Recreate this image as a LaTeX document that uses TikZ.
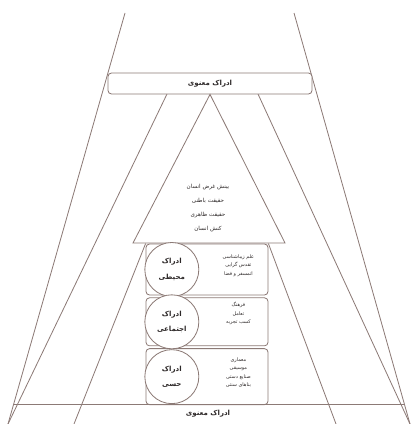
\documentclass[tikz,border=0pt]{standalone}
\usepackage{fontspec}
\usetikzlibrary{positioning,calc}
\TeXXeTstate=1
\newfontfamily\farsi[Script=Arabic]{DejaVu Sans}
\newcommand{\fa}[1]{{\farsi\beginR #1\endR}}
\definecolor{framebrown}{RGB}{140,122,118}
\definecolor{textdark}{RGB}{45,40,40}

\begin{document}
\begin{tikzpicture}[
  x=0.03cm, y=-0.03cm,
  line/.style={draw=framebrown, line width=0.7pt},
  rbox/.style={draw=framebrown, fill=white, rounded corners=3pt, line width=0.7pt, inner sep=0pt},
  circ/.style={circle, draw=framebrown, fill=white, line width=0.7pt, minimum size=1.62cm, inner sep=0pt,
               align=center, font=\fontsize{6}{13}\selectfont\bfseries, text=textdark},
  lbl/.style={font=\fontsize{6}{7}\selectfont\bfseries, text=textdark},
  tri/.style={align=center, font=\fontsize{4.8}{12}\selectfont, text=textdark},
  sub/.style={align=center, font=\fontsize{4.2}{7.2}\selectfont, text=textdark},
]
\useasboundingbox (0,0) rectangle (416,424);

% ---- outer frame ----
\coordinate (ol) at (125,13);
\coordinate (olb) at (8,424);
\coordinate (or) at (294,13);
\coordinate (orb) at (410,424);
\draw[line] (ol) -- (olb);
\draw[line] (or) -- (orb);

% ---- inner rays from under the top box ----
\coordinate (il) at (167,94);
\coordinate (ilb) at (8,424);
\coordinate (ir) at (258,94);
\coordinate (irb) at (410,424);
\draw[line] (il) -- (ilb);
\draw[line] (ir) -- (irb);

% ---- top box ----
\node[rbox, minimum width=6.12cm, minimum height=0.63cm, lbl] (top) at (210,83.5) {\fa{ادراک معنوی}};

% ---- central triangle ----
\coordinate (tl) at (133,243);
\coordinate (tr) at (285,243);
\draw[line, fill=white] (top.south) -- (tl) -- (tr) -- cycle;
\node[tri] (tritext) at (208,208)
  {\fa{بینش غرض انسان}\\\fa{حقیقت باطنی}\\\fa{حقیقت ظاهری}\\\fa{کنش انسان}};

% ---- stacked boxes ----
\node[rbox, minimum width=3.66cm, minimum height=1.53cm] (box1) at (207,269.5) {};
\node[rbox, minimum width=3.66cm, minimum height=1.44cm, below=0.06cm of box1] (box2) {};
\node[rbox, minimum width=3.66cm, minimum height=1.68cm, below=0.06cm of box2] (box3) {};

% lower rays: from the box stack down to the bottom
\coordinate (ll) at (74,424);
\coordinate (lr) at (336,424);
\draw[line] (box1.north west) -- (ll);
\draw[line] (box1.north east) -- (lr);

% circles and lists
\node[circ, right=-1pt of box1.west] (c1) {\fa{ادراک}\\\fa{محیطی}};
\node[circ, right=-1pt of box2.west] (c2) {\fa{ادراک}\\\fa{اجتماعی}};
\node[circ, right=-1pt of box3.west] (c3) {\fa{ادراک}\\\fa{حسی}};

\node[sub] (l1) at ($(box1.east)+(-30,-4)$) {\fa{علم زیباشناسی}\\\fa{تقدس گرایی}\\\fa{اتمسفر و فضا}};
\node[sub] (l2) at ($(box2.east)+(-30,-8)$) {\fa{فرهنگ}\\\fa{تعامل}\\\fa{کسب تجربه}};
\node[sub] (l3) at ($(box3.east)+(-30,-4)$) {\fa{معماری}\\\fa{موسیقی}\\\fa{صنایع دستی}\\\fa{بناهای سنتی}};

% ---- bottom band ----
\coordinate (hl) at (14,404);
\coordinate (hr) at (405,404);
\draw[line] (hl) -- (hr);
\node[lbl] (bottom) at (208,414) {\fa{ادراک معنوی}};

\end{tikzpicture}
\end{document}
